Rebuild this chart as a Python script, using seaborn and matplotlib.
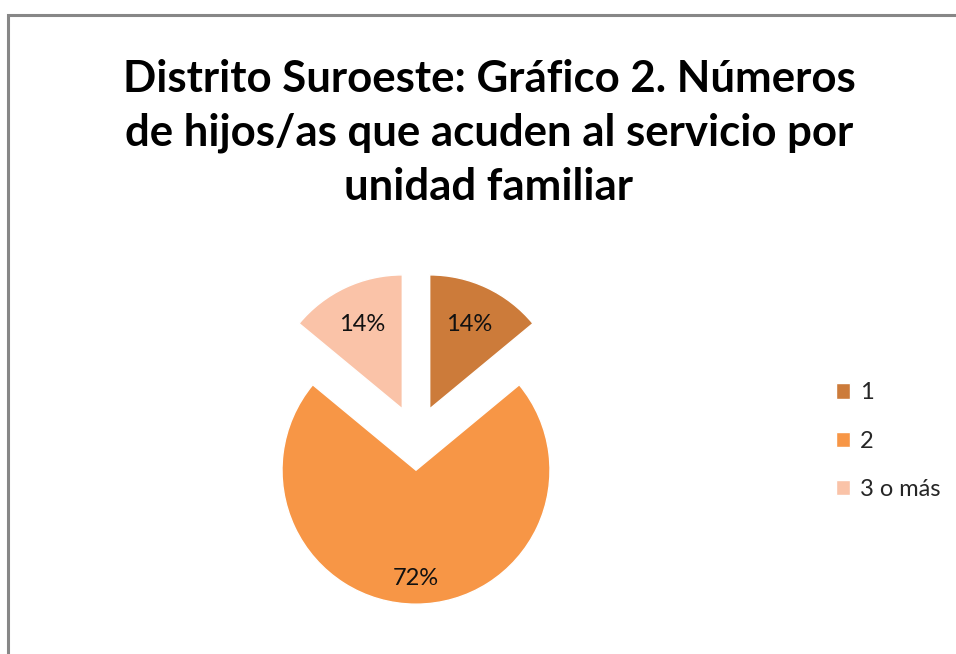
import numpy as np
import matplotlib
matplotlib.use("Agg")
import matplotlib.pyplot as plt
import seaborn as sns
from matplotlib.patches import Rectangle

# data
categories = ["1", "2", "3 o más"]
shares = [14, 72, 14]
slice_colors = ["#CC7B3A", "#F79646", "#FAC3A8"]
title = "Distrito Suroeste: Gráfico 2. Números\nde hijos/as que acuden al servicio por\nunidad familiar"

sns.set_theme(style="white")
plt.rcParams['font.family'] = ['Lato', 'DejaVu Sans']

fig = plt.figure(figsize=(9.56, 6.54), dpi=100)

# gray chart frame (right/bottom edges run past the picture)
fig.patches.append(Rectangle((8 / 956, -0.1), 1.2, (654 - 15) / 654 + 0.1,
                             transform=fig.transFigure, fill=False,
                             edgecolor="#878787", linewidth=2.2))

fig.text(489 / 956, 1 - 133 / 654, title, ha="center", va="center",
         fontsize=31.5, fontweight="bold", linespacing=1.43, color="black")

# pie axes: radius 1 -> ~134 px, centre at (416, 438) px
L = 1.4
w = 2 * L * 134
ax = fig.add_axes([(416 - w / 2) / 956, (216 - w / 2) / 654, w / 956, w / 654])
wedges, texts, autotexts = ax.pie(shares, colors=slice_colors, startangle=90,
                                  counterclock=False, explode=[0.24, 0.24, 0.24],
                                  autopct="%1.0f%%", pctdistance=0.72,
                                  textprops=dict(fontsize=17, color="#111111"))
ax.set_xlim(-L, L)
ax.set_ylim(-L, L)
ax.set_aspect("equal")
ax.axis("off")

# the big slice has its label further out
dist = [0.70, 0.81, 0.70]
for wd, t, d in zip(wedges, autotexts, dist):
    ang = np.deg2rad((wd.theta1 + wd.theta2) / 2)
    cx, cy = wd.center
    t.set_position((cx + d * np.cos(ang), cy + d * np.sin(ang)))

leg = fig.legend(wedges, categories, loc="center left",
                 bbox_to_anchor=(819 / 956, 1 - 441 / 654), frameon=False,
                 fontsize=17, handlelength=0.62, handleheight=0.62,
                 labelspacing=1.15, handletextpad=0.4, borderpad=0.2)

fig.savefig("out.png", dpi=100)
